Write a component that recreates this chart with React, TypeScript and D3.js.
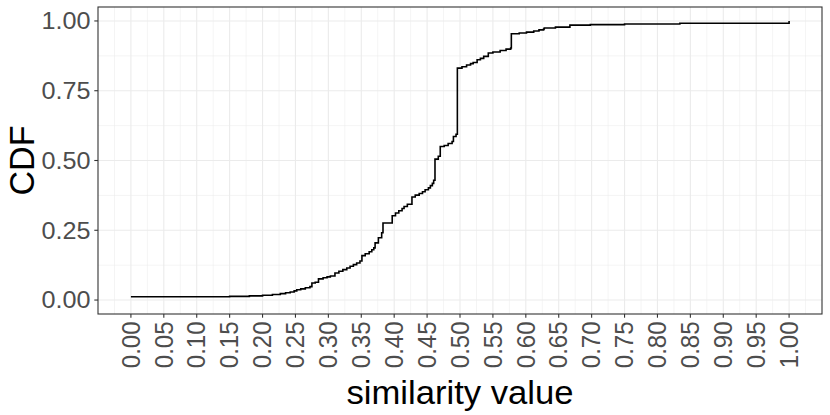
import React from "react";
import * as d3 from "d3";

// ECDF steps (step-after): similarity value -> cumulative proportion
const simValues = [
  0.0, 0.15, 0.18, 0.2, 0.215, 0.227, 0.235, 0.242, 0.248, 0.252, 0.258, 0.265, 0.272,
  0.275, 0.28, 0.285, 0.292, 0.298, 0.303, 0.31, 0.316, 0.322, 0.328, 0.333, 0.338,
  0.343, 0.348, 0.351, 0.356, 0.362, 0.366, 0.369, 0.371, 0.376, 0.381, 0.383, 0.397,
  0.402, 0.407, 0.412, 0.415, 0.42, 0.427, 0.432, 0.438, 0.443, 0.447, 0.452, 0.455,
  0.458, 0.46, 0.462, 0.467, 0.47, 0.476, 0.482, 0.488, 0.49, 0.494, 0.496, 0.503,
  0.51, 0.516, 0.52, 0.526, 0.531, 0.536, 0.543, 0.55, 0.561, 0.57, 0.577, 0.578,
  0.59, 0.601, 0.612, 0.62, 0.627, 0.628, 0.645, 0.667, 0.698, 0.75, 0.834, 1.0,
];
const cdfValues = [
  0.012, 0.013, 0.015, 0.017, 0.02, 0.023, 0.026, 0.029, 0.033, 0.037, 0.04, 0.044, 0.048,
  0.061, 0.064, 0.076, 0.08, 0.083, 0.086, 0.097, 0.103, 0.109, 0.115, 0.121, 0.127,
  0.133, 0.14, 0.159, 0.166, 0.173, 0.18, 0.187, 0.205, 0.223, 0.241, 0.276, 0.302,
  0.312, 0.32, 0.328, 0.335, 0.343, 0.369, 0.376, 0.382, 0.388, 0.395, 0.402, 0.41,
  0.418, 0.429, 0.505, 0.515, 0.55, 0.554, 0.561, 0.568, 0.586, 0.594, 0.831, 0.836,
  0.842, 0.847, 0.851, 0.861, 0.866, 0.873, 0.885, 0.889, 0.894, 0.899, 0.903, 0.954,
  0.957, 0.96, 0.964, 0.968, 0.971, 0.975, 0.978, 0.985, 0.987, 0.989, 0.992, 1.0,
];
const xTickValues = d3.range(0, 21).map((i) => i * 0.05);
const yTickValues = [0, 0.25, 0.5, 0.75, 1];
const xTitle = "similarity value";
const yTitle = "CDF";

const W = 830;
const H = 415;
const panel = { left: 98, right: 822, top: 7, bottom: 314 };
const FONT = "'Liberation Sans', Arial, Helvetica, sans-serif";
const SX = 1.05; // slight horizontal text stretch seen in the reference

export default function App() {
  const x = d3.scaleLinear().domain([-0.05, 1.05]).range([panel.left, panel.right]);
  const y = d3.scaleLinear().domain([-0.05, 1.05]).range([panel.bottom, panel.top]);

  const xMinor = xTickValues.slice(0, -1).map((v) => v + 0.025).concat([-0.025, 1.025]);
  const yMinor = [0.125, 0.375, 0.625, 0.875];

  const pts: [number, number][] = simValues.map((v, i) => [v, cdfValues[i]]);
  const line = d3
    .line<[number, number]>()
    .x((d) => x(d[0]))
    .y((d) => y(d[1]))
    .curve(d3.curveStepAfter);

  return (
    <svg width={W} height={H} style={{ position: "absolute", left: 0, top: 0, background: "#fff" }}>
      <rect x={0} y={0} width={W} height={H} fill="#fff" />
      <g>
        {xMinor.map((v, i) => (
          <line key={"xm" + i} x1={x(v)} x2={x(v)} y1={panel.top} y2={panel.bottom} stroke="#EBEBEB" strokeWidth={0.55} />
        ))}
        {yMinor.map((v, i) => (
          <line key={"ym" + i} x1={panel.left} x2={panel.right} y1={y(v)} y2={y(v)} stroke="#EBEBEB" strokeWidth={0.55} />
        ))}
        {xTickValues.map((v, i) => (
          <line key={"xg" + i} x1={x(v)} x2={x(v)} y1={panel.top} y2={panel.bottom} stroke="#EBEBEB" strokeWidth={1.1} />
        ))}
        {yTickValues.map((v, i) => (
          <line key={"yg" + i} x1={panel.left} x2={panel.right} y1={y(v)} y2={y(v)} stroke="#EBEBEB" strokeWidth={1.1} />
        ))}
      </g>
      <path d={line(pts) || ""} fill="none" stroke="#000" strokeWidth={1.6} />
      <rect
        x={panel.left}
        y={panel.top}
        width={panel.right - panel.left}
        height={panel.bottom - panel.top}
        fill="none"
        stroke="#333333"
        strokeWidth={1.1}
      />
      {yTickValues.map((v, i) => (
        <g key={"yt" + i}>
          <line x1={panel.left - 3.7} x2={panel.left} y1={y(v)} y2={y(v)} stroke="#333333" strokeWidth={1.1} />
          <text
            transform={`translate(${panel.left - 7.5},${y(v)}) scale(${SX},1)`}
            textAnchor="end"
            dominantBaseline="central"
            fontFamily={FONT}
            fontSize={24}
            fill="#4D4D4D"
          >
            {v.toFixed(2)}
          </text>
        </g>
      ))}
      {xTickValues.map((v, i) => (
        <g key={"xt" + i}>
          <line x1={x(v)} x2={x(v)} y1={panel.bottom} y2={panel.bottom + 3.7} stroke="#333333" strokeWidth={1.1} />
          <text
            transform={`translate(${x(v)},${panel.bottom + 7.5}) scale(${SX},1) rotate(-90)`}
            textAnchor="end"
            dominantBaseline="central"
            fontFamily={FONT}
            fontSize={24}
            fill="#4D4D4D"
          >
            {v.toFixed(2)}
          </text>
        </g>
      ))}
      <text
        transform={`translate(${(panel.left + panel.right) / 2},${404}) scale(${SX},1)`}
        textAnchor="middle"
        fontFamily={FONT}
        fontSize={33}
        fill="#000"
      >
        {xTitle}
      </text>
      <text
        transform={`translate(${33.5},${(panel.top + panel.bottom) / 2}) scale(${SX},1) rotate(-90)`}
        textAnchor="middle"
        fontFamily={FONT}
        fontSize={34}
        fill="#000"
      >
        {yTitle}
      </text>
    </svg>
  );
}
